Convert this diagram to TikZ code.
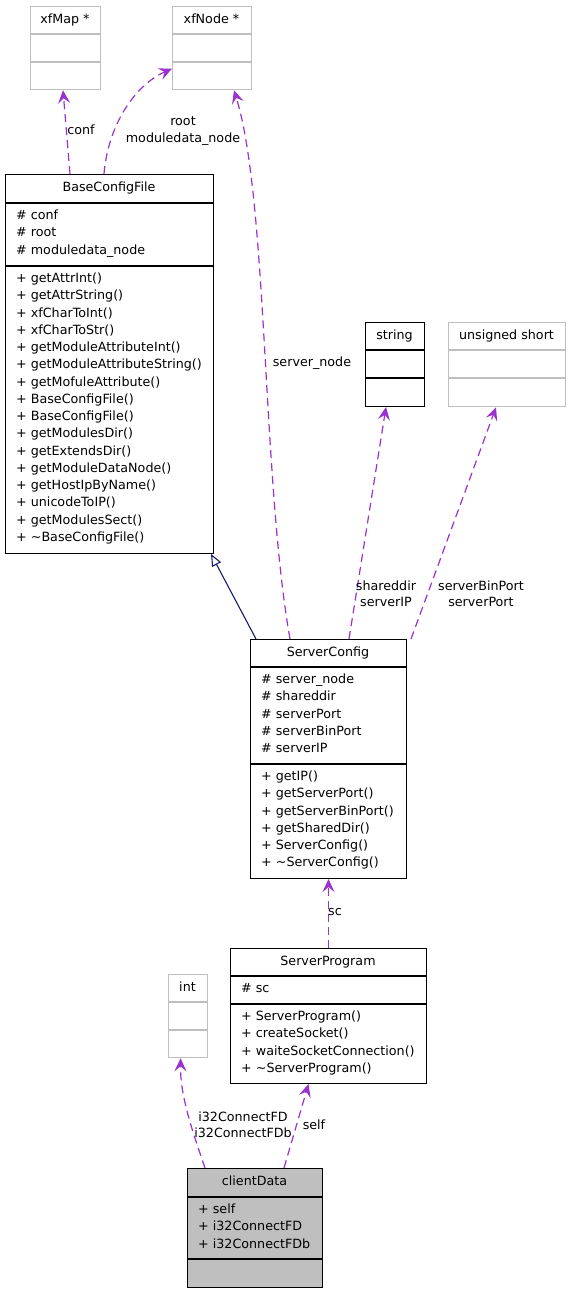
\documentclass[tikz,border=0pt]{standalone}
\usepackage{fontspec}
\setmainfont{DejaVu Sans}
\usetikzlibrary{arrows.meta,calc}
\definecolor{depc}{HTML}{9A32CD}
\definecolor{inhc}{HTML}{191970}
\definecolor{gry}{HTML}{BFBFBF}
\begin{document}
\begin{tikzpicture}[x=1pt,y=-1pt, font=\fontsize{12.7}{17.25}\selectfont,
  box/.style={draw, line width=1pt, inner sep=0pt, anchor=north west},
  gbox/.style={box, draw=gry, line width=1.3pt},
  kbox/.style={box, draw=black},
  gdiv/.style={draw=gry, line width=1.3pt},
  kdiv/.style={draw=black, line width=1.5pt},
  ttl/.style={inner sep=0pt, text height=9pt, text depth=3pt},
  lst/.style={inner sep=0pt, anchor=north west, align=left},
  dep/.style={draw=depc, line width=1.2pt, dash pattern=on 8pt off 5pt, -{Stealth[length=13pt,width=12pt,inset=5pt]}},
  inh/.style={draw=inhc, line width=1.1pt, -{Triangle[open,length=12pt,width=10pt,fill=white]}},
  lbl/.style={inner sep=0pt, align=center, font=\fontsize{12.7}{16.5}\selectfont}]
\useasboundingbox[fill=white] (0,0) rectangle (571,1293);
\newcommand{\fl}{\rule{0pt}{10pt}}
% xfMap
\node[gbox, minimum width=70pt, minimum height=83pt] (xfmap) at (30,6) {};
\draw[gdiv] (xfmap.west |- 0,34) -- (xfmap.east |- 0,34);
\draw[gdiv] (xfmap.west |- 0,62) -- (xfmap.east |- 0,62);
\node[ttl] (xfmapT) at (65,20) {xfMap *};
% xfNode
\node[gbox, minimum width=79pt, minimum height=83pt] (xfnode) at (172,6) {};
\draw[gdiv] (xfnode.west |- 0,34) -- (xfnode.east |- 0,34);
\draw[gdiv] (xfnode.west |- 0,62) -- (xfnode.east |- 0,62);
\node[ttl] (xfnodeT) at (211.5,20) {xfNode *};
% BaseConfigFile
\node[kbox, minimum width=208pt, minimum height=379pt] (base) at (5,174) {};
\draw[kdiv] (base.west |- 0,203) -- (base.east |- 0,203);
\draw[kdiv] (base.west |- 0,266) -- (base.east |- 0,266);
\node[ttl] (baseT) at (109,188.5) {BaseConfigFile};
\node[lst] (baseA) at (16,209.5) {\fl\# conf\\\# root\\\# moduledata\_node};
\node[lst] (baseM) at (16,272.5) {\fl+ getAttrInt()\\+ getAttrString()\\+ xfCharToInt()\\+ xfCharToStr()\\+ getModuleAttributeInt()\\+ getModuleAttributeString()\\+ getMofuleAttribute()\\+ BaseConfigFile()\\+ BaseConfigFile()\\+ getModulesDir()\\+ getExtendsDir()\\+ getModuleDataNode()\\+ getHostIpByName()\\+ unicodeToIP()\\+ getModulesSect()\\+ \textasciitilde BaseConfigFile()};
% string
\node[kbox, minimum width=59pt, minimum height=84pt] (string) at (365,322) {};
\draw[kdiv] (string.west |- 0,350) -- (string.east |- 0,350);
\draw[kdiv] (string.west |- 0,378) -- (string.east |- 0,378);
\node[ttl] (stringT) at (394.5,336) {string};
% unsigned short
\node[gbox, minimum width=117pt, minimum height=84pt] (ushort) at (448,322) {};
\draw[gdiv] (ushort.west |- 0,350) -- (ushort.east |- 0,350);
\draw[gdiv] (ushort.west |- 0,378) -- (ushort.east |- 0,378);
\node[ttl] (ushortT) at (506.5,336) {unsigned short};
% ServerConfig
\node[kbox, minimum width=156pt, minimum height=239pt] (sc) at (250,639) {};
\draw[kdiv] (sc.west |- 0,667) -- (sc.east |- 0,667);
\draw[kdiv] (sc.west |- 0,764) -- (sc.east |- 0,764);
\node[ttl] (scT) at (328,653) {ServerConfig};
\node[lst] (scA) at (261,673.5) {\fl\# server\_node\\\# shareddir\\\# serverPort\\\# serverBinPort\\\# serverIP};
\node[lst] (scM) at (261,770.5) {\fl+ getIP()\\+ getServerPort()\\+ getServerBinPort()\\+ getSharedDir()\\+ ServerConfig()\\+ \textasciitilde ServerConfig()};
% ServerProgram
\node[kbox, minimum width=196pt, minimum height=135pt] (sp) at (230,948) {};
\draw[kdiv] (sp.west |- 0,976) -- (sp.east |- 0,976);
\draw[kdiv] (sp.west |- 0,1004) -- (sp.east |- 0,1004);
\node[ttl] (spT) at (328,962) {ServerProgram};
\node[lst] (spA) at (241,982.5) {\fl\# sc};
\node[lst] (spM) at (241,1010.5) {\fl+ ServerProgram()\\+ createSocket()\\+ waiteSocketConnection()\\+ \textasciitilde ServerProgram()};
% int
\node[gbox, minimum width=39pt, minimum height=83pt] (int) at (168,974) {};
\draw[gdiv] (int.west |- 0,1002) -- (int.east |- 0,1002);
\draw[gdiv] (int.west |- 0,1030) -- (int.east |- 0,1030);
\node[ttl] (intT) at (187.5,988) {int};
% clientData
\node[kbox, fill=gry, minimum width=135pt, minimum height=119pt] (cd) at (187,1168) {};
\draw[kdiv] (cd.west |- 0,1197) -- (cd.east |- 0,1197);
\draw[kdiv] (cd.west |- 0,1259) -- (cd.east |- 0,1259);
\node[ttl] (cdT) at (254.5,1182.5) {clientData};
\node[lst] (cdA) at (198,1203.5) {\fl+ self\\+ i32ConnectFD\\+ i32ConnectFDb};
% edges
\draw[dep] ([xshift=65pt]base.north west) -- ([xshift=33pt]xfmap.south west);
\draw[dep] ([xshift=99pt]base.north west) .. controls (108,125) and (135,85) .. ([yshift=-20.5pt]xfnode.west);
\draw[dep] ([xshift=40pt]sc.north west) .. controls (262,480) and (268,200) .. ([xshift=62pt]xfnode.south west);
\draw[dep] ([xshift=99pt]sc.north west) -- ([xshift=21pt]string.south west);
\draw[dep] ([xshift=4pt]sc.north east) -- ([xshift=48pt]ushort.south west);
\draw[inh] ([xshift=6pt]sc.north west) -- ([xshift=-3pt]base.south east);
\draw[dep] (sp.north) -- (sc.south);
\draw[dep] ([xshift=18pt]cd.north west) .. controls (192,1130) and (180,1095) .. ([xshift=-7.5pt]int.south);
\draw[dep] ([xshift=97pt]cd.north west) -- ([xshift=-20pt]sp.south);
% labels
\node[lbl] (l1) at (81,130) {conf};
\node[lbl] (l2) at (183,131) {root\\moduledata\_node};
\node[lbl] (l3) at (312,363) {server\_node};
\node[lbl] (l4) at (386,594) {shareddir\\serverIP};
\node[lbl] (l5) at (481,594) {serverBinPort\\serverPort};
\node[lbl] (l6) at (335,912) {sc};
\node[lbl] (l7) at (243,1125) {i32ConnectFD\\i32ConnectFDb};
\node[lbl] (l8) at (314,1125) {self};
\end{tikzpicture}
\end{document}
